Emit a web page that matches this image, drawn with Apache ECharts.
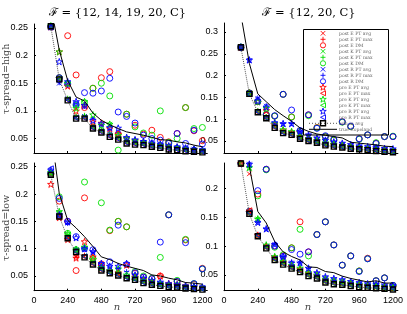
<!DOCTYPE html>
<html><head><meta charset="utf-8">
<script src="https://cdn.jsdelivr.net/npm/echarts@6/dist/echarts.min.js"></script>
<style>html,body{margin:0;padding:0;background:#fff}#c{width:407px;height:314px}</style>
</head><body><div id="c"></div>
<script>
// ---------- data ----------
const n = [120,180,240,300,360,420,480,540,600,660,720,780,840,900,960,1020,1080,1140,1200];
const xTicks = [0,240,480,720,960,1200];
const yTicksTL = [0.05,0.1,0.15,0.2,0.25];
const yTicksTR = [0.05,0.1,0.15,0.2,0.25,0.3];
const yTicksBL = [0.05,0.1,0.15,0.2,0.25];
const yTicksBR = [0.05,0.1,0.15,0.2];
const titles = ['ℱ = {12, 14, 19, 20, C}', 'ℱ = {12, 20, C}'];
const rowLabels = ['τ-spread=high', 'τ-spread=low'];
const xName = 'n';
const seriesNames = ['post E PT avg','post E PT max','post E DM','post K PT avg','post K PT max','post K DM',
  'post R PT avg','post R PT max','post R DM','pre E PT avg','pre E PT max','pre K PT avg','pre K PT max',
  'pre R PT avg','pre R PT max','min in avg','true Copeland'];

// top-left: F = {12,14,19,20,C}, tau-spread = high
const tl_postE_avg = [0.253,0.158,0.121,0.088,0.088,0.070,0.063,0.055,0.050,0.043,0.041,0.040,0.037,0.035,0.032,0.031,0.029,0.028,0.027];
const tl_postE_max = [0.253,0.159,0.122,0.090,0.090,0.072,0.065,0.057,0.052,0.045,0.043,0.041,0.039,0.036,0.033,0.032,0.030,0.029,0.028];
const tl_postE_dm  = [0.252,0.160,0.236,0.165,0.106,0.141,0.160,0.171,0.058,0.094,0.074,0.058,0.065,0.052,0.044,0.059,0.106,0.064,0.046];
const tl_postK_avg = [0.253,0.158,0.121,0.088,0.090,0.071,0.064,0.076,0.051,0.044,0.042,0.040,0.038,0.035,0.033,0.032,0.030,0.029,0.028];
const tl_postK_max = [0.253,0.159,0.123,0.091,0.092,0.073,0.066,0.060,0.053,0.046,0.044,0.042,0.039,0.036,0.034,0.032,0.030,0.029,0.028];
const tl_postK_dm  = [0.252,0.160,0.150,0.110,0.115,0.141,0.150,0.127,0.029,0.094,0.071,0.060,0.056,0.100,0.043,0.050,0.106,0.068,0.070];
const tl_postR_avg = [0.253,0.150,0.122,0.089,0.090,0.073,0.065,0.058,0.053,0.046,0.044,0.043,0.041,0.038,0.035,0.034,0.032,0.031,0.029];
const tl_postR_max = [0.253,0.151,0.146,0.110,0.108,0.086,0.075,0.066,0.061,0.053,0.048,0.046,0.043,0.040,0.037,0.035,0.033,0.032,0.030];
const tl_postR_dm  = [0.252,0.160,0.148,0.112,0.133,0.132,0.136,0.159,0.098,0.090,0.078,0.056,0.050,0.047,0.041,0.059,0.041,0.065,0.040];
const tl_preE_avg  = [0.252,0.207,0.145,0.100,0.110,0.080,0.078,0.068,0.058,0.050,0.046,0.043,0.040,0.038,0.035,0.033,0.031,0.030,0.028];
const tl_preE_max  = [0.252,0.157,0.120,0.087,0.087,0.069,0.062,0.054,0.049,0.042,0.040,0.039,0.036,0.034,0.031,0.030,0.028,0.027,0.026];
const tl_preK_avg  = [0.254,0.207,0.150,0.105,0.117,0.093,0.074,0.076,0.056,0.050,0.046,0.043,0.040,0.038,0.035,0.033,0.031,0.030,0.028];
const tl_preK_max  = [0.252,0.158,0.121,0.088,0.088,0.070,0.063,0.055,0.050,0.043,0.041,0.040,0.037,0.035,0.032,0.031,0.029,0.028,0.027];
const tl_preR_avg  = [0.252,0.189,0.153,0.117,0.110,0.083,0.077,0.070,0.069,0.052,0.048,0.045,0.042,0.040,0.037,0.035,0.033,0.031,0.030];
const tl_preR_max  = [0.252,0.157,0.120,0.087,0.087,0.069,0.062,0.054,0.049,0.042,0.040,0.039,0.036,0.034,0.031,0.030,0.028,0.027,0.026];
const tl_minAvg    = [0.253,0.157,0.119,0.086,0.086,0.068,0.061,0.053,0.048,0.041,0.039,0.038,0.035,0.033,0.030,0.029,0.027,0.026,0.025];
const tl_true      = [0.290,0.210,0.155,0.125,0.118,0.096,0.083,0.075,0.068,0.062,0.059,0.056,0.052,0.048,0.047,0.044,0.042,0.038,0.035];

// top-right: F = {12,20,C}, tau-spread = high
const tr_postE_avg = [0.265,0.158,0.118,0.104,0.083,0.070,0.066,0.057,0.052,0.048,0.042,0.039,0.037,0.034,0.033,0.031,0.029,0.027,0.026];
const tr_postE_max = [0.265,0.159,0.119,0.106,0.085,0.072,0.067,0.058,0.053,0.049,0.043,0.040,0.038,0.035,0.034,0.032,0.030,0.028,0.027];
const tr_postE_dm  = [0.264,0.160,0.140,0.110,0.107,0.157,0.105,0.072,0.110,0.081,0.060,0.052,0.094,0.083,0.055,0.064,0.045,0.060,0.060];
const tr_postK_avg = [0.265,0.158,0.118,0.104,0.083,0.071,0.066,0.058,0.052,0.048,0.042,0.039,0.037,0.034,0.033,0.031,0.029,0.027,0.026];
const tr_postK_max = [0.265,0.159,0.120,0.106,0.086,0.073,0.068,0.059,0.054,0.050,0.044,0.041,0.039,0.036,0.034,0.032,0.030,0.028,0.027];
const tr_postK_dm  = [0.264,0.160,0.140,0.111,0.107,0.157,0.105,0.072,0.108,0.080,0.060,0.052,0.093,0.083,0.054,0.064,0.046,0.060,0.061];
const tr_postR_avg = [0.265,0.235,0.148,0.130,0.090,0.088,0.088,0.071,0.062,0.055,0.050,0.046,0.043,0.040,0.037,0.035,0.033,0.031,0.029];
const tr_postR_max = [0.266,0.236,0.149,0.130,0.092,0.090,0.090,0.072,0.063,0.056,0.051,0.047,0.044,0.041,0.038,0.036,0.034,0.032,0.030];
const tr_postR_dm  = [0.264,0.160,0.141,0.110,0.108,0.157,0.121,0.074,0.110,0.079,0.062,0.054,0.094,0.084,0.055,0.064,0.044,0.060,0.060];
const tr_preE_avg  = [0.265,0.160,0.140,0.120,0.088,0.075,0.070,0.060,0.055,0.050,0.045,0.042,0.040,0.037,0.035,0.033,0.031,0.029,0.028];
const tr_preE_max  = [0.265,0.157,0.116,0.102,0.081,0.069,0.064,0.055,0.050,0.046,0.040,0.037,0.035,0.032,0.031,0.029,0.027,0.025,0.024];
const tr_preK_avg  = [0.266,0.160,0.140,0.125,0.090,0.076,0.072,0.061,0.056,0.051,0.046,0.043,0.040,0.037,0.035,0.033,0.031,0.029,0.028];
const tr_preK_max  = [0.265,0.158,0.117,0.103,0.082,0.069,0.065,0.056,0.051,0.047,0.041,0.038,0.036,0.033,0.032,0.030,0.028,0.026,0.025];
const tr_preR_avg  = [0.266,0.236,0.142,0.128,0.092,0.090,0.090,0.072,0.064,0.057,0.052,0.048,0.045,0.042,0.039,0.037,0.035,0.033,0.032];
const tr_preR_max  = [0.265,0.157,0.117,0.103,0.082,0.069,0.065,0.056,0.051,0.047,0.041,0.038,0.036,0.033,0.032,0.030,0.028,0.026,0.025];
const tr_minAvg    = [0.265,0.158,0.116,0.102,0.080,0.068,0.064,0.055,0.050,0.046,0.040,0.037,0.035,0.032,0.031,0.029,0.027,0.025,0.024];
const tr_true      = [0.340,0.228,0.158,0.140,0.122,0.108,0.095,0.080,0.072,0.066,0.063,0.060,0.057,0.047,0.045,0.043,0.041,0.038,0.037];

// bottom-left: F = {12,14,19,20,C}, tau-spread = low
const bl_postE_avg = [0.236,0.160,0.120,0.085,0.086,0.073,0.062,0.057,0.053,0.048,0.045,0.039,0.036,0.034,0.032,0.031,0.029,0.028,0.027];
const bl_postE_max = [0.237,0.161,0.121,0.084,0.088,0.075,0.064,0.058,0.054,0.049,0.046,0.040,0.037,0.035,0.033,0.032,0.030,0.029,0.028];
const bl_postE_dm  = [0.236,0.187,0.150,0.060,0.193,0.082,0.072,0.133,0.150,0.140,0.055,0.048,0.045,0.050,0.162,0.040,0.116,0.035,0.064];
const bl_postK_avg = [0.238,0.166,0.125,0.096,0.100,0.075,0.064,0.058,0.054,0.049,0.046,0.040,0.037,0.035,0.033,0.032,0.030,0.029,0.028];
const bl_postK_max = [0.239,0.167,0.126,0.097,0.102,0.077,0.065,0.059,0.055,0.050,0.047,0.041,0.038,0.036,0.034,0.033,0.031,0.030,0.029];
const bl_postK_dm  = [0.237,0.195,0.128,0.098,0.222,0.082,0.184,0.134,0.150,0.140,0.058,0.050,0.046,0.084,0.162,0.042,0.117,0.036,0.063];
const bl_postR_avg = [0.240,0.162,0.148,0.098,0.099,0.092,0.070,0.065,0.062,0.056,0.050,0.045,0.040,0.037,0.035,0.033,0.031,0.030,0.029];
const bl_postR_max = [0.242,0.163,0.146,0.100,0.100,0.094,0.072,0.066,0.064,0.058,0.052,0.046,0.041,0.038,0.036,0.034,0.032,0.031,0.030];
const bl_postR_dm  = [0.238,0.192,0.150,0.122,0.100,0.098,0.070,0.076,0.143,0.071,0.056,0.048,0.045,0.112,0.162,0.040,0.111,0.036,0.063];
const bl_preE_avg  = [0.218,0.157,0.117,0.083,0.113,0.085,0.068,0.060,0.056,0.070,0.048,0.043,0.040,0.050,0.036,0.034,0.032,0.030,0.029];
const bl_preE_max  = [0.236,0.157,0.118,0.088,0.085,0.072,0.061,0.056,0.052,0.047,0.044,0.038,0.035,0.033,0.031,0.030,0.028,0.027,0.026];
const bl_preK_avg  = [0.240,0.168,0.128,0.099,0.103,0.080,0.066,0.060,0.063,0.052,0.047,0.042,0.039,0.036,0.034,0.033,0.031,0.030,0.029];
const bl_preK_max  = [0.237,0.160,0.120,0.095,0.086,0.073,0.062,0.056,0.052,0.047,0.044,0.038,0.035,0.033,0.031,0.030,0.028,0.027,0.026];
const bl_preR_avg  = [0.244,0.162,0.149,0.120,0.100,0.095,0.073,0.068,0.068,0.073,0.052,0.046,0.042,0.039,0.036,0.034,0.032,0.031,0.030];
const bl_preR_max  = [0.247,0.160,0.120,0.095,0.086,0.073,0.062,0.056,0.052,0.047,0.044,0.038,0.035,0.033,0.031,0.030,0.028,0.027,0.026];
const bl_minAvg    = [0.235,0.159,0.119,0.094,0.084,0.071,0.060,0.055,0.051,0.046,0.043,0.037,0.034,0.032,0.030,0.029,0.027,0.026,0.025];
const bl_true      = [0.317,0.201,0.152,0.138,0.122,0.104,0.085,0.080,0.073,0.068,0.064,0.060,0.052,0.050,0.046,0.043,0.038,0.037,0.035];

// bottom-right: F = {12,20,C}, tau-spread = low
const br_postE_avg = [0.243,0.225,0.118,0.098,0.078,0.070,0.063,0.057,0.050,0.046,0.039,0.036,0.035,0.033,0.031,0.030,0.029,0.028,0.027];
const br_postE_max = [0.244,0.157,0.119,0.099,0.080,0.071,0.064,0.058,0.051,0.047,0.040,0.037,0.036,0.034,0.032,0.031,0.030,0.029,0.028];
const br_postE_dm  = [0.243,0.160,0.190,0.233,0.100,0.083,0.097,0.142,0.090,0.120,0.142,0.102,0.067,0.083,0.057,0.079,0.040,0.045,0.032];
const br_postK_avg = [0.244,0.235,0.147,0.100,0.080,0.072,0.065,0.059,0.052,0.048,0.041,0.038,0.036,0.034,0.032,0.031,0.030,0.029,0.028];
const br_postK_max = [0.244,0.236,0.148,0.101,0.082,0.073,0.066,0.060,0.053,0.049,0.042,0.039,0.037,0.035,0.033,0.032,0.031,0.030,0.029];
const br_postK_dm  = [0.243,0.160,0.187,0.232,0.098,0.085,0.097,0.129,0.083,0.120,0.142,0.102,0.067,0.083,0.057,0.078,0.040,0.045,0.032];
const br_postR_avg = [0.244,0.242,0.141,0.128,0.103,0.080,0.071,0.071,0.060,0.052,0.045,0.042,0.040,0.037,0.035,0.033,0.032,0.031,0.030];
const br_postR_max = [0.244,0.242,0.141,0.130,0.103,0.082,0.072,0.071,0.061,0.053,0.046,0.043,0.041,0.038,0.036,0.034,0.033,0.032,0.031];
const br_postR_dm  = [0.243,0.160,0.196,0.233,0.100,0.082,0.094,0.086,0.090,0.120,0.142,0.102,0.067,0.083,0.056,0.078,0.040,0.045,0.032];
const br_preE_avg  = [0.243,0.160,0.119,0.100,0.080,0.072,0.065,0.060,0.053,0.049,0.042,0.039,0.037,0.035,0.033,0.031,0.030,0.029,0.028];
const br_preE_max  = [0.243,0.162,0.118,0.097,0.077,0.069,0.062,0.056,0.049,0.045,0.038,0.035,0.034,0.032,0.030,0.029,0.028,0.027,0.026];
const br_preK_avg  = [0.244,0.236,0.147,0.102,0.082,0.074,0.067,0.062,0.054,0.050,0.043,0.040,0.038,0.036,0.034,0.032,0.031,0.030,0.029];
const br_preK_max  = [0.243,0.157,0.118,0.097,0.077,0.069,0.062,0.056,0.049,0.045,0.038,0.035,0.034,0.032,0.030,0.029,0.028,0.027,0.026];
const br_preR_avg  = [0.245,0.242,0.141,0.130,0.103,0.082,0.071,0.071,0.062,0.054,0.047,0.044,0.042,0.039,0.037,0.035,0.034,0.033,0.032];
const br_preR_max  = [0.244,0.158,0.119,0.098,0.078,0.070,0.063,0.057,0.050,0.046,0.039,0.036,0.035,0.033,0.031,0.030,0.029,0.028,0.027];
const br_minAvg    = [0.243,0.156,0.117,0.096,0.076,0.068,0.061,0.055,0.048,0.044,0.037,0.034,0.033,0.031,0.029,0.028,0.027,0.026,0.025];
const br_true      = [0.400,0.238,0.160,0.140,0.108,0.090,0.082,0.076,0.064,0.063,0.056,0.054,0.048,0.044,0.041,0.038,0.040,0.036,0.036];

// ---------- build ----------
const panels = [
  [tl_postE_avg,tl_postE_max,tl_postE_dm,tl_postK_avg,tl_postK_max,tl_postK_dm,tl_postR_avg,tl_postR_max,tl_postR_dm,tl_preE_avg,tl_preE_max,tl_preK_avg,tl_preK_max,tl_preR_avg,tl_preR_max,tl_minAvg,tl_true],
  [tr_postE_avg,tr_postE_max,tr_postE_dm,tr_postK_avg,tr_postK_max,tr_postK_dm,tr_postR_avg,tr_postR_max,tr_postR_dm,tr_preE_avg,tr_preE_max,tr_preK_avg,tr_preK_max,tr_preR_avg,tr_preR_max,tr_minAvg,tr_true],
  [bl_postE_avg,bl_postE_max,bl_postE_dm,bl_postK_avg,bl_postK_max,bl_postK_dm,bl_postR_avg,bl_postR_max,bl_postR_dm,bl_preE_avg,bl_preE_max,bl_preK_avg,bl_preK_max,bl_preR_avg,bl_preR_max,bl_minAvg,bl_true],
  [br_postE_avg,br_postE_max,br_postE_dm,br_postK_avg,br_postK_max,br_postK_dm,br_postR_avg,br_postR_max,br_postR_dm,br_preE_avg,br_preE_max,br_preK_avg,br_preK_max,br_preR_avg,br_preR_max,br_minAvg,br_true]
];
const R = '#ff0000', G = '#00e000', B = '#0000ff';
const STAR = [[5,0],[6.18,3.62],[10,3.62],[6.91,5.86],[8.09,9.51],[5,7.27],[1.91,9.51],[3.09,5.86],[0,3.62],[3.82,3.62]];
const SYM = {
  x: 'path://M0,0L10,10M10,0L0,10',
  plus: 'path://M5,0L5,10M0,5L10,5',
  circle: 'circle',
  star: 'path://M' + STAR.map(p=>p.join(',')).join('L') + 'Z',
  tri: 'path://M10,0L0,5L10,10Z'
};
const SIZE = {x:4.5, plus:5, circle:6, star:6.5, tri:5};
const markerStyle = [[R,'x'],[R,'plus'],[R,'circle'],[G,'x'],[G,'plus'],[G,'circle'],[B,'x'],[B,'plus'],[B,'circle'],
  [R,'star'],[R,'tri'],[G,'star'],[G,'tri'],[B,'star'],[B,'tri']];

const grids = [
  {left:34, top:24, width:173.3, height:129},
  {left:224, top:23, width:173.9, height:130},
  {left:34, top:163, width:173.3, height:127.7},
  {left:224, top:163, width:173.9, height:127.7}
];
const yRanges = [[0.0238,0.2572,yTicksTL],[0.0224,0.3206,yTicksTR],[0.0231,0.2568,yTicksBL],[0.0228,0.2438,yTicksBR]];

const xAxes = grids.map((g,p)=>({
  type:'value', gridIndex:p, min:0, max:1235,
  axisLine:{show:true, onZero:false, lineStyle:{color:'#000', width:1}},
  axisTick:{show:true, inside:true, length:2, customValues:xTicks, lineStyle:{color:'#000'}},
  axisLabel:{show:p>=2, customValues:xTicks, formatter:(v)=>String(v), fontSize:9, color:'#000', margin:5, fontFamily:'Liberation Sans'},
  splitLine:{show:false}
}));
const yAxes = grids.map((g,p)=>({
  type:'value', gridIndex:p, min:yRanges[p][0], max:yRanges[p][1],
  axisLine:{show:true, onZero:false, lineStyle:{color:'#000', width:1}},
  axisTick:{show:true, inside:true, length:2, customValues:yRanges[p][2], lineStyle:{color:'#000'}},
  axisLabel:{customValues:yRanges[p][2], formatter:(v)=>String(v), fontSize:9, color:'#000', margin:6, fontFamily:'Liberation Sans'},
  splitLine:{show:false}
}));

const series = [];
panels.forEach((arrs,p)=>{
  markerStyle.forEach(([c,s],k)=>{
    series.push({
      type:'scatter', name:seriesNames[k], xAxisIndex:p, yAxisIndex:p,
      data:n.map((x,i)=>[x, arrs[k][i]]),
      symbol:SYM[s], symbolSize:SIZE[s],
      itemStyle:{color:'none', borderColor:c, borderWidth:0.9, opacity:1},
      emphasis:{disabled:true}, silent:true
    });
  });
  series.push({
    type:'line', name:seriesNames[15], xAxisIndex:p, yAxisIndex:p,
    data:n.map((x,i)=>[x, arrs[15][i]]),
    symbol:'rect', symbolSize:5, showSymbol:true,
    lineStyle:{type:'dotted', color:'#555', width:1},
    itemStyle:{color:'none', borderColor:'#000', borderWidth:1.4},
    emphasis:{disabled:true}, silent:true
  });
  series.push({
    type:'line', name:seriesNames[16], xAxisIndex:p, yAxisIndex:p,
    data:n.map((x,i)=>[x, arrs[16][i]]),
    symbol:'none', lineStyle:{type:'solid', color:'#000', width:1},
    clip:true, emphasis:{disabled:true}, silent:true
  });
});

// ---------- legend (drawn as graphic elements: box, icons, labels) ----------
const LG = {x0:303.5, y0:29.5, w:85, h:105.5, mx:323, row0:33.3, pitch:6, tx:339, lx0:309, lx1:337};
const legendEls = [{type:'rect', shape:{x:LG.x0, y:LG.y0, width:LG.w, height:LG.h}, style:{fill:'none', stroke:'#000', lineWidth:1}, z:100, silent:true}];
function seg(x1,y1,x2,y2,c){ return {type:'line', shape:{x1,y1,x2,y2}, style:{stroke:c, lineWidth:0.9}, z:101, silent:true}; }
seriesNames.forEach((nm,k)=>{
  const cy = LG.row0 + k*LG.pitch;
  if (k < 15) {
    const [c,s] = markerStyle[k];
    const h = SIZE[s]/2, cx = LG.mx;
    if (s==='circle') legendEls.push({type:'circle', shape:{cx:cx, cy:cy, r:2.6}, style:{fill:'none', stroke:c, lineWidth:0.9}, z:101, silent:true});
    else if (s==='x') { legendEls.push(seg(cx-h,cy-h,cx+h,cy+h,c)); legendEls.push(seg(cx+h,cy-h,cx-h,cy+h,c)); }
    else if (s==='plus') { legendEls.push(seg(cx,cy-h,cx,cy+h,c)); legendEls.push(seg(cx-h,cy,cx+h,cy,c)); }
    else if (s==='tri') legendEls.push({type:'polygon', shape:{points:[[cx+h,cy-h],[cx-h,cy],[cx+h,cy+h]]}, style:{fill:'none', stroke:c, lineWidth:0.9}, z:101, silent:true});
    else if (s==='star') legendEls.push({type:'polygon', shape:{points:STAR.map(([a,b])=>[cx-h+a*h/5, cy-h+b*h/5])}, style:{fill:'none', stroke:c, lineWidth:0.9}, z:101, silent:true});
  } else if (k === 15) {
    legendEls.push({type:'line', shape:{x1:LG.lx0, y1:cy, x2:LG.lx1, y2:cy}, style:{stroke:'#555', lineWidth:1, lineDash:[1,2]}, z:101, silent:true});
    legendEls.push({type:'rect', shape:{x:LG.mx-2.5, y:cy-2.5, width:5, height:5}, style:{fill:'none', stroke:'#000', lineWidth:1.4}, z:101, silent:true});
  } else {
    legendEls.push({type:'line', shape:{x1:LG.lx0, y1:cy, x2:LG.lx1, y2:cy}, style:{stroke:'#000', lineWidth:1}, z:101, silent:true});
  }
  legendEls.push({type:'text', x:LG.tx, y:cy, style:{text:nm, font:'4.6px "DejaVu Serif"', fill:'#666', textAlign:'left', textVerticalAlign:'middle'}, z:101, silent:true});
});

const option = {
  animation:false,
  backgroundColor:'#fff',
  grid:grids,
  xAxis:xAxes,
  yAxis:yAxes,
  series:series,
  graphic:[
    ...legendEls,
    {type:'text', x:117.5, y:13, style:{text:titles[0], font:'11.5px "DejaVu Serif"', fill:'#000', textAlign:'center', textVerticalAlign:'middle'}},
    {type:'text', x:309, y:13, style:{text:titles[1], font:'11.5px "DejaVu Serif"', fill:'#000', textAlign:'center', textVerticalAlign:'middle'}},
    {type:'text', x:7, y:79, rotation:Math.PI/2, style:{text:rowLabels[0], font:'9.5px "DejaVu Serif"', fill:'#444', textAlign:'center', textVerticalAlign:'middle'}},
    {type:'text', x:7, y:228, rotation:Math.PI/2, style:{text:rowLabels[1], font:'9.5px "DejaVu Serif"', fill:'#444', textAlign:'center', textVerticalAlign:'middle'}},
    {type:'text', x:117, y:307, style:{text:xName, font:'italic 10px "DejaVu Serif"', fill:'#444', textAlign:'center', textVerticalAlign:'middle'}},
    {type:'text', x:308, y:307, style:{text:xName, font:'italic 10px "DejaVu Serif"', fill:'#444', textAlign:'center', textVerticalAlign:'middle'}}
  ]
};
const chart = echarts.init(document.getElementById('c'), null, {renderer:'canvas'});
chart.setOption(option);
</script>
</body></html>
